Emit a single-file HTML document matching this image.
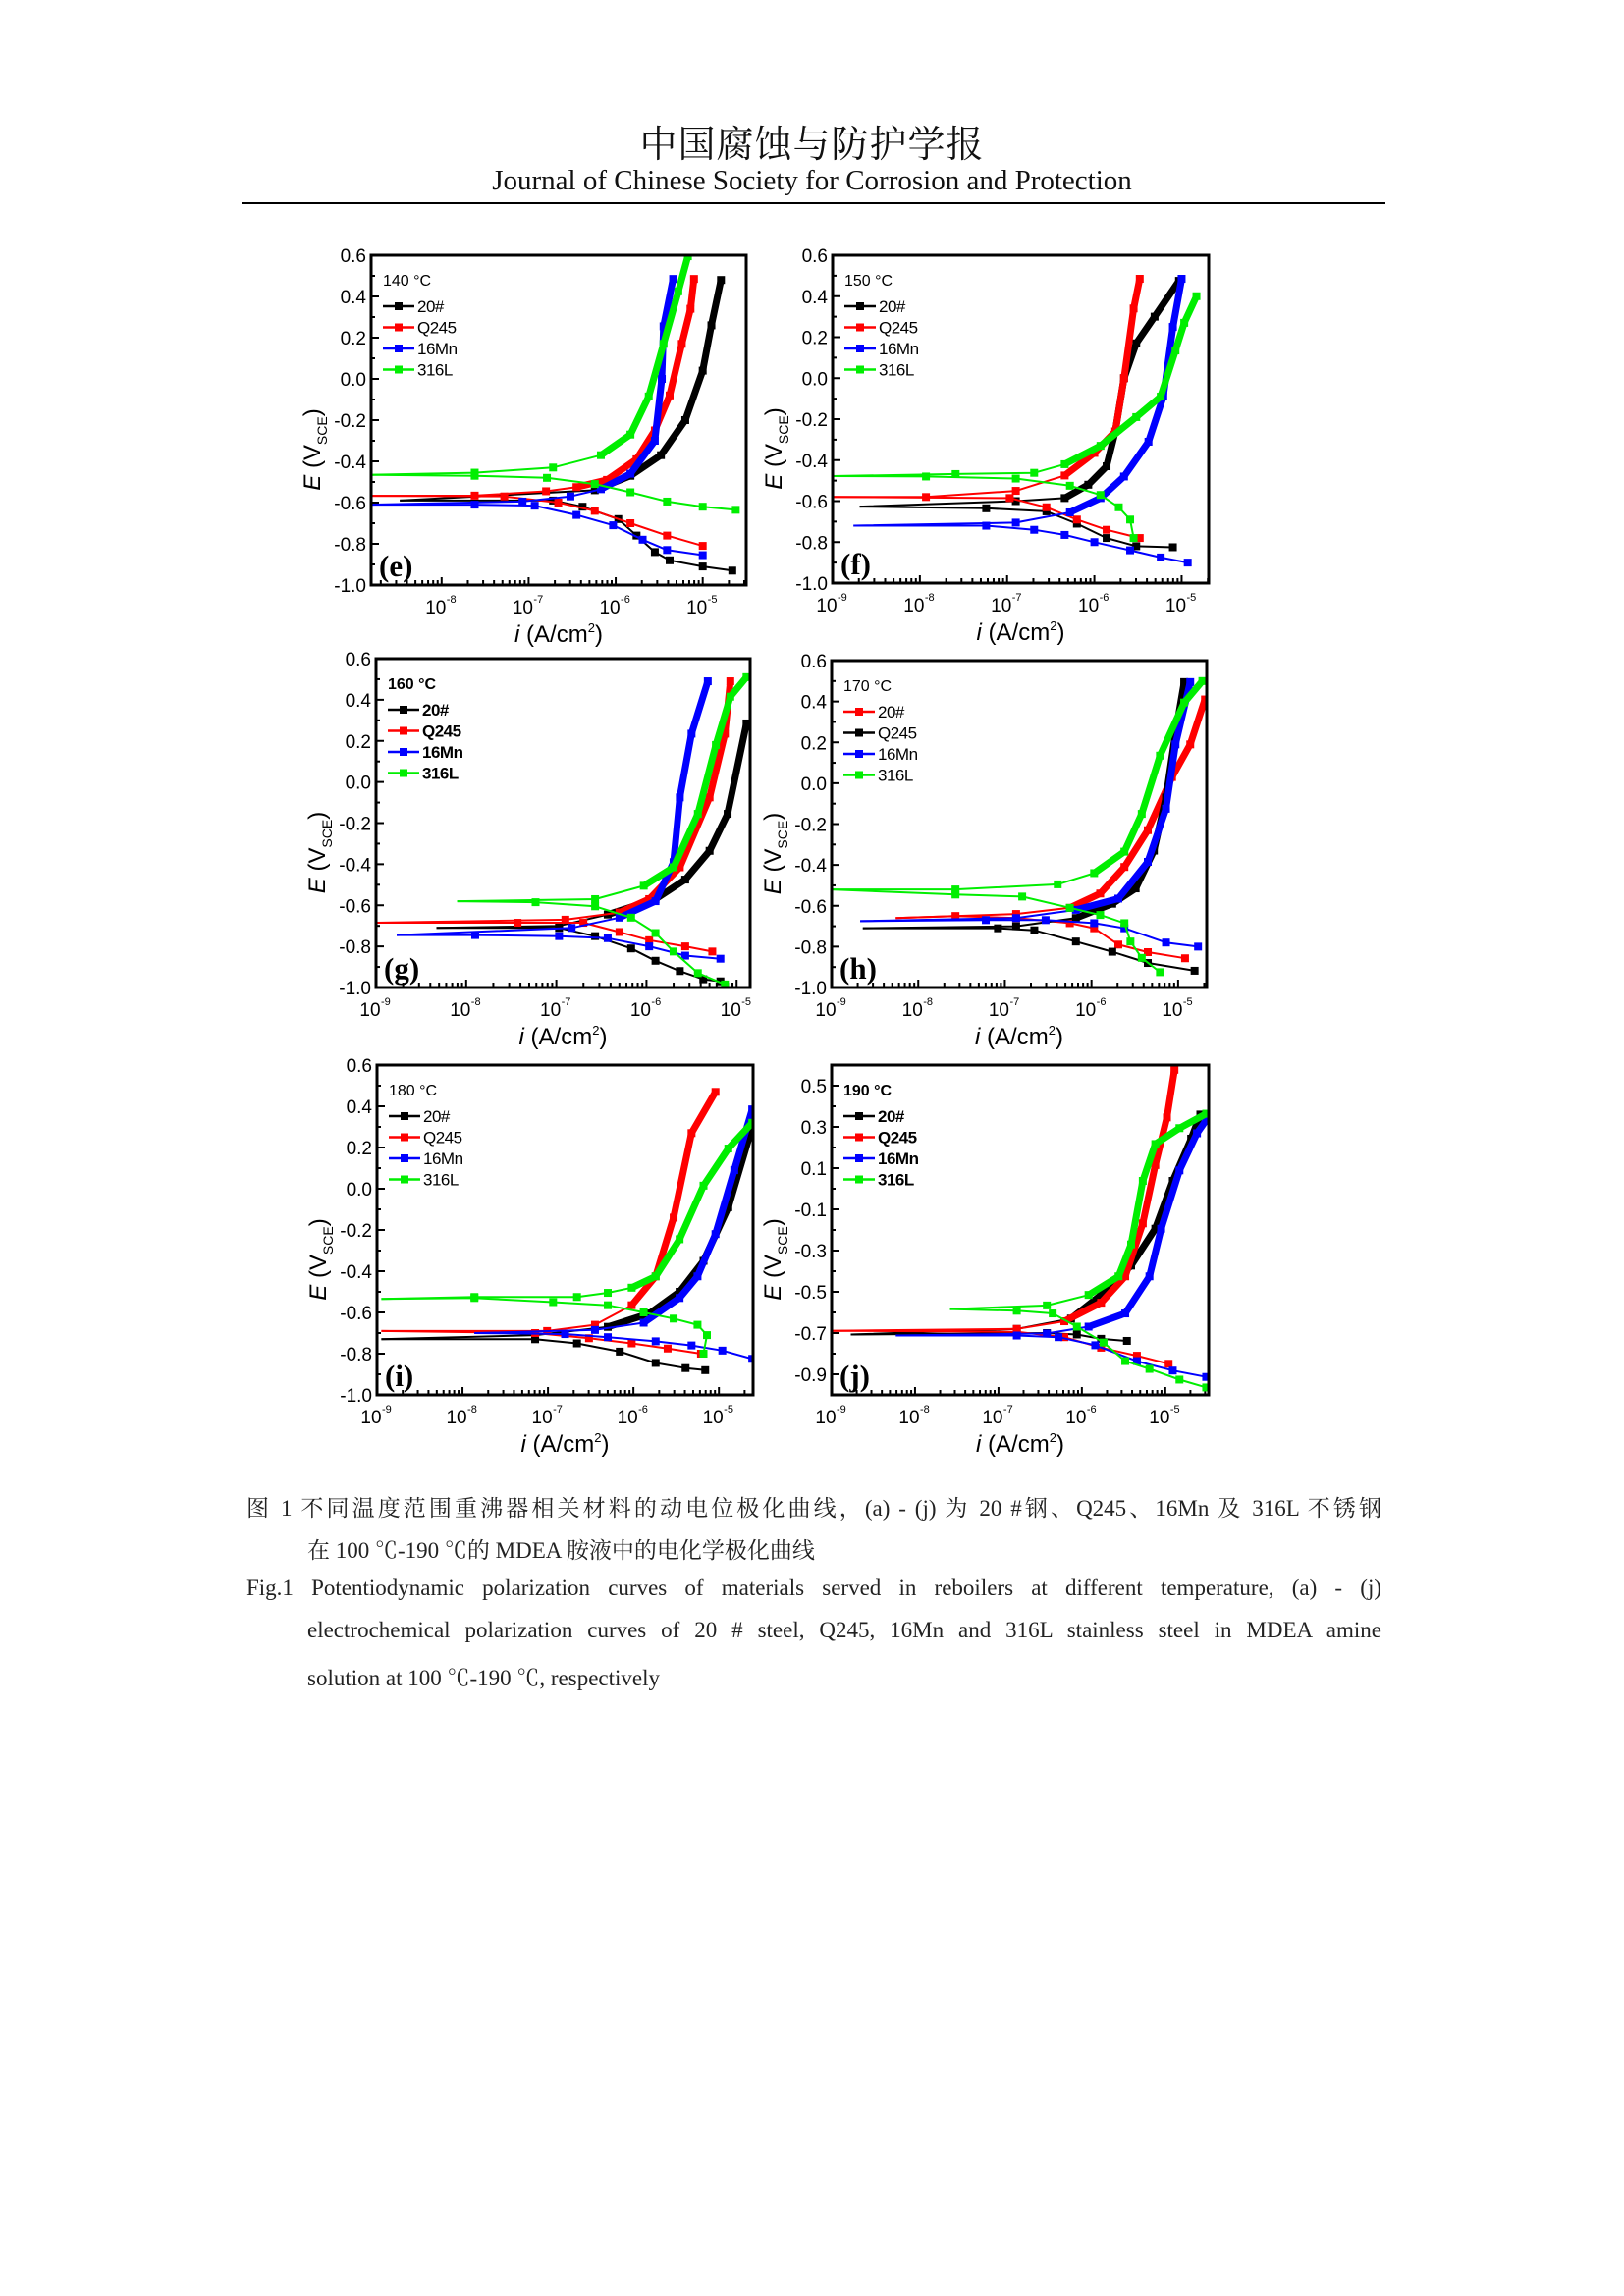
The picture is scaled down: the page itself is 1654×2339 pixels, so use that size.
<!DOCTYPE html>
<html><head><meta charset="utf-8">
<style>
html,body{margin:0;padding:0;background:#fff;}
body{width:1654px;height:2339px;position:relative;overflow:hidden;}
.hd1{position:absolute;left:0;width:1654px;top:116px;text-align:center;font-family:"Liberation Serif","Noto Serif CJK SC",serif;font-size:38px;color:#111;letter-spacing:1px;}
.hd2{position:absolute;left:0;width:1654px;top:168px;text-align:center;font-family:"Liberation Serif",serif;font-size:29px;color:#111;}
.rule{position:absolute;left:246px;width:1165px;top:206px;height:2px;background:#000;}
.cap{position:absolute;font-family:"Liberation Serif","Noto Serif CJK SC",serif;font-size:23px;color:#222;white-space:nowrap;}
.just{text-align:justify;text-align-last:justify;white-space:normal;}
svg{position:absolute;left:0;top:0;}
</style></head>
<body>
<div class="hd1">中国腐蚀与防护学报</div>
<div class="hd2">Journal of Chinese Society for Corrosion and Protection</div>
<div class="rule"></div>

<svg id="fig" width="1654" height="2339"></svg>

<div class="cap just" style="left:251px;width:1156px;top:1518px;">图 1 不同温度范围重沸器相关材料的动电位极化曲线，(a) - (j) 为 20 #钢、Q245、16Mn 及 316L 不锈钢</div>
<div class="cap" style="left:313px;top:1561px;">在 100 ℃-190 ℃的 MDEA 胺液中的电化学极化曲线</div>
<div class="cap just" style="left:251px;width:1156px;top:1605px;">Fig.1 Potentiodynamic polarization curves of materials served in reboilers at different temperature, (a) - (j)</div>
<div class="cap just" style="left:313px;width:1094px;top:1648px;">electrochemical polarization curves of 20 # steel, Q245, 16Mn and 316L stainless steel in MDEA amine</div>
<div class="cap" style="left:313px;top:1691px;">solution at 100 ℃-190 ℃, respectively</div>

<script>
// ---- data: log10(i) and E (V) along each curve (cathodic end -> tip -> anodic end) ----
const e20_logi=[-4.66,-5,-5.38,-5.55,-5.76,-5.97,-6.38,-6.72,-8.48,-6.24,-5.83,-5.48,-5.2,-5,-4.9,-4.79];
const e20_E=[-0.93,-0.91,-0.88,-0.84,-0.76,-0.68,-0.62,-0.59,-0.59,-0.54,-0.47,-0.37,-0.2,0.04,0.26,0.48];
const eQ_logi=[-5,-5.41,-5.83,-6.24,-6.66,-7.28,-8.8,-7.62,-6.8,-6.45,-6.1,-5.76,-5.55,-5.38,-5.24,-5.14,-5.1];
const eQ_E=[-0.81,-0.76,-0.7,-0.64,-0.6,-0.57,-0.567,-0.566,-0.545,-0.525,-0.49,-0.39,-0.25,-0.08,0.17,0.34,0.485];
const eM_logi=[-5,-5.41,-5.69,-6.03,-6.45,-6.93,-7.62,-8.8,-7.07,-6.52,-6.17,-5.83,-5.55,-5.47,-5.45,-5.34];
const eM_E=[-0.855,-0.83,-0.78,-0.71,-0.66,-0.615,-0.61,-0.61,-0.595,-0.57,-0.535,-0.46,-0.3,0,0.255,0.485];
const eL_logi=[-4.62,-5,-5.41,-5.83,-6.24,-6.79,-7.62,-8.8,-7.62,-6.72,-6.17,-5.83,-5.62,-5.45,-5.28,-5.17];
const eL_E=[-0.635,-0.62,-0.595,-0.55,-0.51,-0.48,-0.47,-0.465,-0.455,-0.43,-0.37,-0.27,-0.085,0.17,0.425,0.595];

const f20_logi=[-5.1,-5.52,-5.86,-6.2,-6.55,-7.24,-8.69,-6.9,-6.34,-6.07,-5.86,-5.76,-5.66,-5.52,-5.31,-5.03];
const f20_E=[-0.825,-0.82,-0.78,-0.71,-0.65,-0.635,-0.627,-0.6,-0.585,-0.52,-0.43,-0.26,0,0.17,0.3,0.475];
const fQ_logi=[-5.48,-5.86,-6.2,-6.55,-6.97,-9,-7.93,-6.9,-6.34,-6,-5.76,-5.66,-5.55,-5.48];
const fQ_E=[-0.78,-0.74,-0.69,-0.63,-0.585,-0.58,-0.58,-0.55,-0.475,-0.365,-0.26,0,0.34,0.485];
const fM_logi=[-4.93,-5.24,-5.59,-6,-6.34,-6.69,-7.24,-8.76,-6.9,-6.28,-5.93,-5.66,-5.38,-5.21,-5.1,-5];
const fM_E=[-0.9,-0.875,-0.84,-0.8,-0.765,-0.74,-0.72,-0.72,-0.705,-0.655,-0.585,-0.48,-0.31,-0.09,0.25,0.485];
const fL_logi=[-5.55,-5.59,-5.72,-5.93,-6.28,-6.9,-7.93,-9,-7.59,-6.69,-6.34,-5.93,-5.52,-5.24,-5.07,-4.97,-4.83];
const fL_E=[-0.78,-0.69,-0.63,-0.57,-0.525,-0.49,-0.48,-0.478,-0.468,-0.462,-0.42,-0.33,-0.19,-0.09,0.135,0.27,0.4];

const g20_logi=[-5.18,-5.37,-5.63,-5.9,-6.17,-6.57,-6.97,-8.33,-6.97,-6.43,-5.9,-5.57,-5.3,-5.1,-4.89];
const g20_E=[-0.97,-0.96,-0.92,-0.87,-0.81,-0.75,-0.71,-0.71,-0.7,-0.645,-0.57,-0.475,-0.335,-0.155,0.285];
const gQ_logi=[-5.27,-5.57,-5.97,-6.3,-6.7,-7.43,-9,-6.9,-6.3,-5.97,-5.63,-5.3,-5.13,-5.07];
const gQ_E=[-0.825,-0.8,-0.77,-0.73,-0.685,-0.685,-0.685,-0.67,-0.635,-0.57,-0.415,-0.075,0.235,0.49];
const gM_logi=[-5.18,-5.57,-5.97,-6.43,-6.97,-7.9,-8.77,-6.83,-6.3,-5.9,-5.7,-5.63,-5.5,-5.32];
const gM_E=[-0.86,-0.845,-0.8,-0.76,-0.75,-0.745,-0.745,-0.71,-0.66,-0.58,-0.39,-0.075,0.235,0.49];
const gL_logi=[-5.13,-5.43,-5.7,-5.9,-6.17,-6.57,-7.23,-8.1,-6.57,-6.03,-5.7,-5.43,-5.23,-5.07,-4.89];
const gL_E=[-0.985,-0.93,-0.825,-0.735,-0.66,-0.605,-0.585,-0.58,-0.57,-0.505,-0.415,-0.155,0.18,0.415,0.51];

const h20_logi=[-4.92,-5.35,-5.69,-5.97,-6.25,-6.87,-7.57,-8.26,-6.87,-6.25,-5.9,-5.62,-5.35,-5.07,-4.86,-4.69];
const h20_E=[-0.857,-0.827,-0.79,-0.71,-0.685,-0.66,-0.65,-0.66,-0.64,-0.61,-0.54,-0.41,-0.23,0.03,0.19,0.41];
const hQ_logi=[-4.81,-5.35,-5.76,-6.18,-6.66,-7.08,-8.64,-6.87,-6.18,-5.76,-5.49,-5.28,-5.14,-5.03,-4.93];
const hQ_E=[-0.918,-0.88,-0.825,-0.775,-0.72,-0.71,-0.71,-0.7,-0.66,-0.59,-0.515,-0.33,-0.07,0.245,0.495];
const hM_logi=[-4.77,-5.14,-5.62,-5.97,-6.53,-7.22,-8.67,-6.87,-6.18,-5.69,-5.35,-5.14,-5.03,-4.86];
const hM_E=[-0.8,-0.78,-0.71,-0.685,-0.67,-0.67,-0.675,-0.66,-0.62,-0.565,-0.385,-0.125,0.19,0.495];
const hL_logi=[-5.21,-5.42,-5.55,-5.62,-5.9,-6.25,-6.8,-7.57,-9,-7.57,-6.39,-5.97,-5.62,-5.42,-5.21,-4.93,-4.72];
const hL_E=[-0.925,-0.855,-0.775,-0.685,-0.645,-0.61,-0.555,-0.545,-0.52,-0.52,-0.495,-0.44,-0.335,-0.15,0.135,0.395,0.5];

const i20_logi=[-5.16,-5.39,-5.74,-6.16,-6.66,-7.15,-8.95,-7.15,-6.3,-5.81,-5.46,-5.18,-4.89,-4.61];
const i20_E=[-0.88,-0.87,-0.845,-0.79,-0.75,-0.73,-0.73,-0.71,-0.67,-0.605,-0.5,-0.35,-0.09,0.3];
const iQ_logi=[-5.21,-5.6,-6.02,-6.52,-7.15,-8.95,-7.01,-6.45,-6.02,-5.74,-5.53,-5.32,-5.04];
const iQ_E=[-0.8,-0.775,-0.75,-0.725,-0.7,-0.69,-0.69,-0.66,-0.565,-0.425,-0.14,0.27,0.47];
const iM_logi=[-4.61,-4.96,-5.32,-5.74,-6.3,-6.8,-7.86,-6.45,-5.88,-5.46,-5.25,-5.04,-4.82,-4.61];
const iM_E=[-0.825,-0.785,-0.76,-0.74,-0.72,-0.705,-0.7,-0.685,-0.65,-0.53,-0.425,-0.22,0.09,0.385];
const iL_logi=[-5.18,-5.14,-5.25,-5.53,-5.88,-6.3,-6.94,-7.86,-8.95,-7.86,-6.66,-6.3,-6.02,-5.74,-5.46,-5.18,-4.89,-4.61];
const iL_E=[-0.8,-0.71,-0.66,-0.63,-0.6,-0.565,-0.55,-0.53,-0.535,-0.525,-0.525,-0.505,-0.48,-0.425,-0.245,0.015,0.195,0.32];

const j20_logi=[-5.46,-5.77,-6.06,-6.42,-8.77,-6.78,-6.13,-5.77,-5.41,-5.12,-4.91,-4.69,-4.58];
const j20_E=[-0.738,-0.728,-0.707,-0.7,-0.707,-0.68,-0.63,-0.515,-0.373,-0.194,0.038,0.243,0.36];
const jQ_logi=[-4.96,-5.34,-5.77,-6.21,-6.78,-9,-6.78,-6.21,-5.77,-5.48,-5.27,-5.12,-4.98,-4.89];
const jQ_E=[-0.849,-0.81,-0.771,-0.72,-0.694,-0.689,-0.68,-0.643,-0.553,-0.425,-0.168,0.115,0.346,0.577];
const jM_logi=[-4.51,-4.91,-5.34,-5.84,-6.28,-6.78,-8.23,-6.42,-5.92,-5.48,-5.19,-5.05,-4.83,-4.62,-4.51];
const jM_E=[-0.913,-0.882,-0.836,-0.759,-0.72,-0.712,-0.712,-0.702,-0.669,-0.605,-0.425,-0.194,0.089,0.269,0.333];
const jL_logi=[-4.51,-4.83,-5.19,-5.48,-5.74,-6.06,-6.35,-6.78,-7.58,-6.42,-5.92,-5.56,-5.41,-5.27,-5.12,-4.83,-4.51];
const jL_E=[-0.964,-0.926,-0.874,-0.836,-0.746,-0.669,-0.605,-0.592,-0.584,-0.566,-0.515,-0.425,-0.27,0.038,0.217,0.294,0.364];

const seriesNames=["20#","Q245","16Mn","316L"];
const yTicksA=[0.6,0.4,0.2,0.0,-0.2,-0.4,-0.6,-0.8,-1.0];
const yTicksJ=[0.5,0.3,0.1,-0.1,-0.3,-0.5,-0.7,-0.9];
const xDecades=[-9,-8,-7,-6,-5];

const BLK="#000",RED="#ff0000",BLU="#0000ff",GRN="#00ee00";
const panels=[
 {id:"e",t:"140 °C",L:378,R:760,T:260,B:596,x0:-8.81,x1:-4.5,bold:false,yt:yTicksA,
  s:[[e20_logi,e20_E,BLK],[eQ_logi,eQ_E,RED],[eM_logi,eM_E,BLU],[eL_logi,eL_E,GRN]]},
 {id:"f",t:"150 °C",L:848,R:1231,T:260,B:594,x0:-9,x1:-4.69,bold:false,yt:yTicksA,
  s:[[f20_logi,f20_E,BLK],[fQ_logi,fQ_E,RED],[fM_logi,fM_E,BLU],[fL_logi,fL_E,GRN]]},
 {id:"g",t:"160 °C",L:383,R:764,T:671,B:1006,x0:-9,x1:-4.85,bold:true,yt:yTicksA,
  s:[[g20_logi,g20_E,BLK],[gQ_logi,gQ_E,RED],[gM_logi,gM_E,BLU],[gL_logi,gL_E,GRN]]},
 {id:"h",t:"170 °C",L:847,R:1229,T:673,B:1006,x0:-9,x1:-4.67,bold:false,yt:yTicksA,
  s:[[h20_logi,h20_E,RED],[hQ_logi,hQ_E,BLK],[hM_logi,hM_E,BLU],[hL_logi,hL_E,GRN]]},
 {id:"i",t:"180 °C",L:384,R:767,T:1085,B:1421,x0:-9,x1:-4.6,bold:false,yt:yTicksA,
  s:[[i20_logi,i20_E,BLK],[iQ_logi,iQ_E,RED],[iM_logi,iM_E,BLU],[iL_logi,iL_E,GRN]]},
 {id:"j",t:"190 °C",L:847,R:1231,T:1085,B:1421,x0:-9,x1:-4.48,bold:true,yt:yTicksJ,
  s:[[j20_logi,j20_E,BLK],[jQ_logi,jQ_E,RED],[jM_logi,jM_E,BLU],[jL_logi,jL_E,GRN]]}
];
const NS="http://www.w3.org/2000/svg";
const svg=document.getElementById("fig");
function mk(tag,attrs,parent){const el=document.createElementNS(NS,tag);for(const k in attrs)el.setAttribute(k,attrs[k]);(parent||svg).appendChild(el);return el;}
const FONT='"Liberation Sans",Arial,sans-serif';

panels.forEach(p=>{
 const g=mk("g",{});
 
 
 const xs=v=>p.L+(v-p.x0)/(p.x1-p.x0)*(p.R-p.L);
 const ys=v=>p.B-(v-(-1.0))/(1.6)*(p.B-p.T);
 const cp=mk("clipPath",{id:"cp"+p.id},g);
 mk("rect",{x:p.L,y:p.T,width:p.R-p.L,height:p.B-p.T},cp);
 for(let v=-1.0;v<=0.6001;v+=0.1){const y=ys(v);mk("line",{x1:p.L,x2:p.L+(Math.abs(Math.round(v*10))%2===(p.id==="j"?1:0)?8:4),y1:y,y2:y,stroke:"#000","stroke-width":2},g);}
 p.yt.forEach(v=>{
  const t=mk("text",{x:p.L-5,y:ys(v)+7,"text-anchor":"end","font-family":FONT,"font-size":19,fill:"#000"},g);
  
  
  t.textContent=v.toFixed(1);
 });
 for(let d=-10;d<=-4;d++){
  for(let m=1;m<10;m++){const lv=d+Math.log10(m);if(lv<p.x0||lv>p.x1)continue;const x=xs(lv);
   mk("line",{x1:x,x2:x,y1:p.B,y2:p.B-(m===1?8:5),stroke:"#000","stroke-width":2},g);}
 }
 xDecades.forEach(d=>{
  if(d<p.x0-0.01||d>p.x1)return;
  const x=xs(d);
  const t=mk("text",{x:x-6,y:p.B+29,"text-anchor":"middle","font-family":FONT,"font-size":19,fill:"#000"},g);
  
  
  t.textContent="10";
  const s=mk("text",{x:x+5,y:p.B+18,"text-anchor":"start","font-family":FONT,"font-size":11,fill:"#000"},g);
  s.textContent=String(d);
 });
 const sg=mk("g",{"clip-path":"url(#cp"+p.id+")"},g);
 p.s.forEach((sr,k)=>{
  const [lx,ey,col]=sr;
  let tip=0;for(let q=1;q<lx.length;q++)if(lx[q]<lx[tip])tip=q;
  const pts=lx.map((v,q)=>xs(v).toFixed(1)+","+ys(ey[q]).toFixed(1));
  const cat=mk("polyline",{points:pts.slice(0,tip+1).join(" "),fill:"none",stroke:col,"stroke-width":2,"stroke-linejoin":"round"},sg);
  
  
  const an=mk("polyline",{points:pts.slice(tip).join(" "),fill:"none",stroke:col,"stroke-width":2,"stroke-linejoin":"round"},sg);
  
  
  const thick=[];for(let q=tip;q<lx.length;q++){if(ey[q]>ey[tip]+0.04)thick.push(pts[q]);}
  if(thick.length>1){const th=mk("polyline",{points:thick.join(" "),fill:"none",stroke:col,"stroke-width":7,"stroke-linejoin":"round"},sg);
   
   }
  lx.forEach((v,q)=>{if(q===tip)return;const x=xs(v),y=ys(ey[q]);
   const r=mk("rect",{x:x-4,y:y-4,width:8,height:8,fill:col},sg);
   
   });
 });
 const fr=mk("rect",{x:p.L,y:p.T,width:p.R-p.L,height:p.B-p.T,fill:"none",stroke:"#000","stroke-width":3},g);
 
 
 const fw=p.bold?"bold":"normal";
 const tt=mk("text",{x:p.L+12,y:p.T+31,"font-family":FONT,"font-size":16,"font-weight":fw,fill:"#000"},g);
 
 
 tt.textContent=p.t;
 p.s.forEach((sr,k)=>{
  const y=p.T+52+k*21.5;
  mk("line",{x1:p.L+12,x2:p.L+44,y1:y,y2:y,stroke:sr[2],"stroke-width":2.5},g);
  mk("rect",{x:p.L+24,y:y-4,width:8,height:8,fill:sr[2]},g);
  const lt=mk("text",{x:p.L+47,y:y+6,"font-family":FONT,"font-size":17,"font-weight":fw,fill:"#000","letter-spacing":"-0.5"},g);
  
  
  lt.textContent=seriesNames[k];
 });
 const pl=mk("text",{x:p.L+8,y:p.B-9,"font-family":'"Liberation Serif",serif',"font-size":31,"font-weight":"bold",fill:"#000"},g);
 
 
 pl.textContent="("+p.id+")";
 const cx=(p.L+p.R)/2;
 const xt=mk("text",{x:cx,y:p.B+58,"text-anchor":"middle","font-family":FONT,"font-size":24,fill:"#000"},g);
 
 
 xt.innerHTML='<tspan font-style="italic">i</tspan> (A/cm<tspan dy="-10" font-size="13">2</tspan><tspan dy="10">)</tspan>';
 const cy=(p.T+p.B)/2+30;
 const yt=mk("text",{x:0,y:0,"text-anchor":"middle","font-family":FONT,"font-size":24,fill:"#000",transform:"translate("+(p.L-52)+","+cy+") rotate(-90)"},g);
 
 
 yt.innerHTML='<tspan font-style="italic">E</tspan> (V<tspan dy="7" font-size="14">SCE</tspan><tspan dy="-7">)</tspan>';
});
</script>
</body></html>
